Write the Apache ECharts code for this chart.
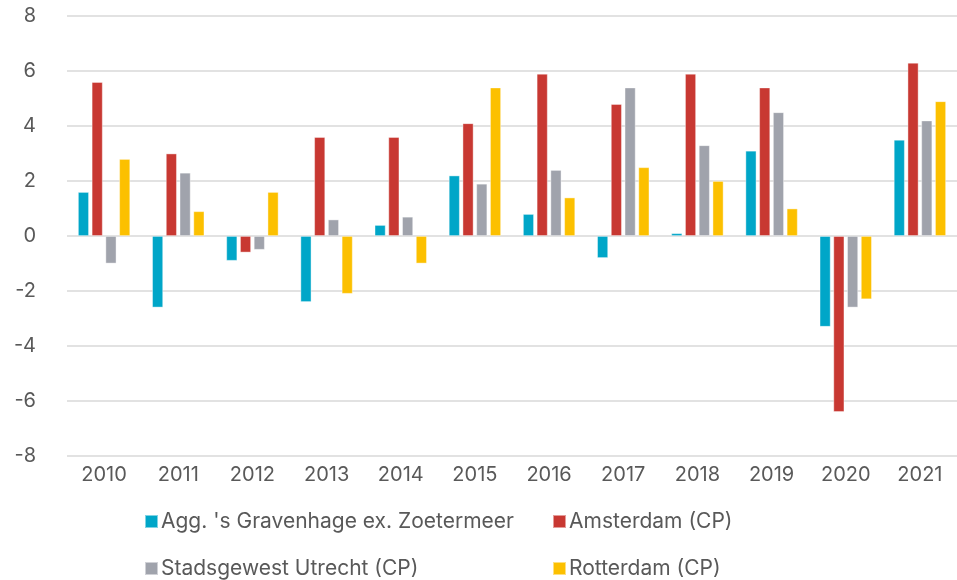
<!DOCTYPE html>
<html>
<head>
<meta charset="utf-8">
<script src="https://cdn.jsdelivr.net/npm/echarts@6/dist/echarts.min.js"></script>
<style>
  html, body { margin: 0; padding: 0; background: #fff; }
  #chart { width: 957px; height: 580px; }
</style>
</head>
<body>
<div id="chart"></div>
<script>
// categorieën (jaren)
const years = ['2010', '2011', '2012', '2013', '2014', '2015', '2016', '2017', '2018', '2019', '2020', '2021'];
// reeksen
const denHaag = [1.6, -2.6, -0.9, -2.4, 0.4, 2.2, 0.8, -0.8, 0.1, 3.1, -3.3, 3.5];
const amsterdam = [5.6, 3.0, -0.6, 3.6, 3.6, 4.1, 5.9, 4.8, 5.9, 5.4, -6.4, 6.3];
const utrecht = [-1.0, 2.3, -0.5, 0.6, 0.7, 1.9, 2.4, 5.4, 3.3, 4.5, -2.6, 4.2];
const rotterdam = [2.8, 0.9, 1.6, -2.1, -1.0, 5.4, 1.4, 2.5, 2.0, 1.0, -2.3, 4.9];
const seriesNames = ["Agg. 's Gravenhage ex. Zoetermeer", 'Amsterdam (CP)', 'Stadsgewest Utrecht (CP)', 'Rotterdam (CP)'];

const colors = ['#00A6C8', '#C83832', '#A0A3AC', '#FCC000'];
const textColor = '#595959';
const font = 'Inter';

const myChart = echarts.init(document.getElementById('chart'));

// legenda als 2x2 raster
const legendPos = [
  { left: 144, top: 511 },
  { left: 552, top: 511 },
  { left: 144, top: 558 },
  { left: 552, top: 558 }
];

const option = {
  backgroundColor: '#fff',
  animation: false,
  color: colors,
  grid: {
    left: 67,
    top: 16,
    width: 900,
    bottom: 124
  },
  legend: seriesNames.map((name, i) => ({
    data: [name],
    left: legendPos[i].left,
    top: legendPos[i].top,
    padding: 0,
    itemWidth: 13,
    itemHeight: 13,
    icon: 'rect',
    textStyle: { color: textColor, fontSize: 21, fontFamily: font, padding: [0, 0, 0, -2] }
  })),
  xAxis: {
    type: 'category',
    data: years,
    position: 'bottom',
    axisLine: { show: false },
    axisTick: { show: false },
    axisLabel: {
      color: textColor,
      fontSize: 20,
      fontFamily: font,
      margin: 9,
      interval: 0
    }
  },
  yAxis: {
    type: 'value',
    min: -8,
    max: 8,
    interval: 2,
    axisLine: { show: false },
    axisTick: { show: false },
    axisLabel: {
      color: textColor,
      fontSize: 20,
      fontFamily: font,
      margin: 31
    },
    splitLine: {
      lineStyle: { color: '#D9D9D9', width: 1.5 }
    }
  },
  series: [denHaag, amsterdam, utrecht, rotterdam].map((data, i) => ({
    name: seriesNames[i],
    type: 'bar',
    data: data,
    barWidth: 11,
    barGap: '25%',
    itemStyle: {
      color: colors[i],
      borderColor: 'rgba(255,255,255,0.5)',
      borderWidth: 0.8
    }
  }))
};

myChart.setOption(option);
</script>
</body>
</html>
